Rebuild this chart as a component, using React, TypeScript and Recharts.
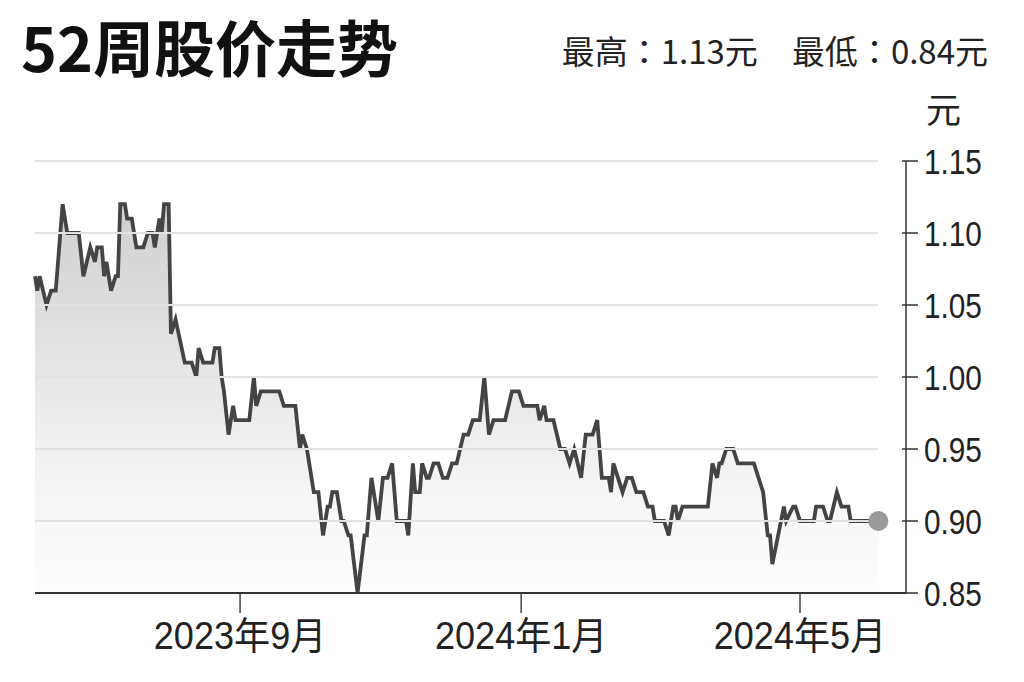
import React from 'react';
import { AreaChart, Area, XAxis, YAxis, ReferenceLine, ReferenceDot } from 'recharts';

// calendar day offsets since 2023-06-01
const tradeDays = [
  3, 4, 5, 8, 10, 12, 15, 17, 22, 24,
  27, 29, 30, 32, 33, 34, 36, 38, 39, 40,
  42, 43, 45, 47, 50, 52, 54, 55, 57, 58,
  59, 61, 62, 64, 68, 71, 73, 74, 76, 80,
  81, 83, 84, 85, 87, 89, 90, 96, 98, 99,
  101, 109, 111, 116, 118, 119, 121, 122, 124, 126,
  128, 130, 131, 132, 134, 136, 137, 139, 140, 143,
  146, 147, 149, 152, 154, 156, 158, 160, 164, 165,
  167, 168, 170, 171, 173, 174, 176, 178, 180, 182,
  184, 186, 189, 191, 193, 196, 198, 200, 202, 207,
  210, 213, 215, 221, 222, 224, 225, 228, 231, 233,
  235, 237, 240, 242, 245, 247, 249, 252, 253, 254,
  258, 260, 262, 264, 267, 269, 271, 272, 276, 278,
  280, 281, 282, 284, 295, 297, 299, 300, 301, 303,
  306, 308, 315, 319, 321, 322, 323, 328, 329, 332,
  333, 335, 341, 342, 345, 347, 348, 351, 353, 356,
  357, 365, 369,
];

const closePrices = [
  1.07, 1.06, 1.07, 1.05, 1.06, 1.06, 1.12, 1.10, 1.10, 1.07,
  1.09, 1.08, 1.09, 1.09, 1.07, 1.08, 1.06, 1.07, 1.07, 1.12,
  1.12, 1.11, 1.11, 1.09, 1.09, 1.10, 1.10, 1.09, 1.11, 1.10,
  1.12, 1.12, 1.03, 1.04, 1.01, 1.01, 1.00, 1.02, 1.01, 1.01,
  1.02, 1.02, 1.00, 0.99, 0.96, 0.98, 0.97, 0.97, 1.00, 0.98,
  0.99, 0.99, 0.98, 0.98, 0.95, 0.96, 0.95, 0.94, 0.92, 0.92,
  0.89, 0.91, 0.91, 0.92, 0.92, 0.90, 0.90, 0.89, 0.89, 0.85,
  0.89, 0.89, 0.93, 0.90, 0.93, 0.93, 0.94, 0.90, 0.90, 0.89,
  0.94, 0.92, 0.92, 0.94, 0.93, 0.93, 0.94, 0.94, 0.93, 0.93,
  0.94, 0.94, 0.96, 0.96, 0.97, 0.97, 1.00, 0.96, 0.97, 0.97,
  0.99, 0.99, 0.98, 0.98, 0.97, 0.98, 0.97, 0.97, 0.95, 0.95,
  0.94, 0.95, 0.93, 0.96, 0.96, 0.97, 0.93, 0.93, 0.92, 0.94,
  0.92, 0.93, 0.93, 0.92, 0.92, 0.91, 0.91, 0.90, 0.90, 0.89,
  0.91, 0.91, 0.90, 0.91, 0.91, 0.94, 0.93, 0.94, 0.94, 0.95,
  0.95, 0.94, 0.94, 0.92, 0.89, 0.89, 0.87, 0.91, 0.90, 0.91,
  0.91, 0.90, 0.90, 0.91, 0.91, 0.90, 0.90, 0.92, 0.91, 0.91,
  0.90, 0.90, 0.90,
];

const priceTicks = [0.85, 0.9, 0.95, 1.0, 1.05, 1.1, 1.15];
const gridPrices = [0.9, 0.95, 1.0, 1.05, 1.1, 1.15];
const monthTickDays = [92, 214, 335];
const monthTickLabels = ['2023年9月', '2024年1月', '2024年5月'];
const xDomain = [3, 381];
const titleText = '52周股价走势';
const highText = '最高：1.13元';
const lowText = '最低：0.84元';
const unitText = '元';

const data = tradeDays.map((day, i) => ({ day, price: closePrices[i] }));
const firstDay = tradeDays[0];
const lastDay = tradeDays[tradeDays.length - 1];
const lastPrice = closePrices[closePrices.length - 1];

const Y_TICK_SIZE = 12;
const Y_TICK_MARGIN = 6;

const YTick = (props: any) => {
  const { x, y, payload } = props;
  const axisX = x - Y_TICK_SIZE - Y_TICK_MARGIN;
  return (
    <g>
      <line x1={axisX - 4} x2={axisX + Y_TICK_SIZE} y1={y} y2={y} stroke="#333" strokeWidth={1.5} />
      <text
        x={x}
        y={y}
        dy="0.36em"
        textAnchor="start"
        fontSize={35}
        fontFamily="'Liberation Sans', Arial, sans-serif"
        fill="#222"
        transform={`translate(${x} 0) scale(0.85 1) translate(${-x} 0)`}
      >
        {Number(payload.value).toFixed(2)}
      </text>
    </g>
  );
};

const monthLabel = (v: number) => {
  const i = monthTickDays.indexOf(v);
  return i >= 0 ? monthTickLabels[i] : '';
};

const XTick = (props: any) => {
  const { x, y, payload } = props;
  return (
    <text
      x={x}
      y={y}
      dy="0.78em"
      textAnchor="middle"
      fontSize={38}
      fontFamily="'Liberation Sans', 'Noto Sans CJK SC', sans-serif"
      fill="#222"
      transform={`translate(${x} 0) scale(0.95 1) translate(${-x} 0)`}
    >
      {monthLabel(payload.value)}
    </text>
  );
};

export default function App() {
  return (
    <div
      style={{
        position: 'absolute',
        left: 0,
        top: 0,
        width: 1024,
        height: 682,
        background: '#fff',
        overflow: 'hidden',
      }}
    >
      <div
        style={{
          position: 'absolute',
          left: 21,
          top: 11,
          fontSize: 61,
          lineHeight: '70px',
          fontWeight: 700,
          fontFamily: "'Noto Sans CJK SC', sans-serif",
          color: '#111',
          whiteSpace: 'nowrap',
        }}
      >
        {titleText}
      </div>
      <div
        style={{
          position: 'absolute',
          right: 36,
          top: 28,
          fontSize: 33,
          lineHeight: '44px',
          fontFamily: "'Noto Sans CJK TC', 'Noto Sans CJK SC', sans-serif",
          color: '#222',
          whiteSpace: 'nowrap',
        }}
      >
        <span>{highText}</span>
        <span style={{ display: 'inline-block', width: 34 }} />
        <span>{lowText}</span>
      </div>
      <div
        style={{
          position: 'absolute',
          left: 926,
          top: 86,
          fontSize: 35,
          lineHeight: '44px',
          fontFamily: "'Noto Sans CJK SC', sans-serif",
          color: '#222',
        }}
      >
        {unitText}
      </div>
      <div style={{ position: 'absolute', left: 0, top: 0 }}>
        <AreaChart
          width={1024}
          height={682}
          data={data}
          margin={{ top: 161, right: 18, bottom: 19, left: 35 }}
        >
          <defs>
            <linearGradient id="priceFill" x1="0" y1="0" x2="0" y2="1">
              <stop offset="0%" stopColor="#000" stopOpacity={0.31} />
              <stop offset="30%" stopColor="#000" stopOpacity={0.21} />
              <stop offset="55%" stopColor="#000" stopOpacity={0.12} />
              <stop offset="80%" stopColor="#000" stopOpacity={0.05} />
              <stop offset="100%" stopColor="#000" stopOpacity={0.01} />
            </linearGradient>
          </defs>
          {gridPrices.map((p) => (
            <ReferenceLine
              key={p}
              segment={[
                { x: firstDay, y: p },
                { x: lastDay, y: p },
              ]}
              stroke="#e2e2e2"
              strokeWidth={2}
            />
          ))}
          <XAxis
            dataKey="day"
            type="number"
            domain={xDomain}
            ticks={monthTickDays}
            interval={0}
            height={70}
            tickSize={20}
            tickMargin={6}
            axisLine={{ stroke: '#333', strokeWidth: 2 }}
            tickLine={{ stroke: '#444', strokeWidth: 1.5 }}
            tick={<XTick />}
          />
          <YAxis
            orientation="right"
            type="number"
            domain={[0.85, 1.15]}
            ticks={priceTicks}
            interval={0}
            width={100}
            tickSize={Y_TICK_SIZE}
            tickMargin={Y_TICK_MARGIN}
            tickLine={false}
            axisLine={{ stroke: '#333', strokeWidth: 1.5 }}
            tick={<YTick />}
            allowDataOverflow
          />
          <Area
            type="linear"
            dataKey="price"
            stroke="#444"
            strokeWidth={3.8}
            fill="url(#priceFill)"
            dot={false}
            activeDot={false}
            isAnimationActive={false}
          />
          <ReferenceDot x={lastDay} y={lastPrice} r={10} fill="#9a9a9a" stroke="none" />
        </AreaChart>
      </div>
    </div>
  );
}
